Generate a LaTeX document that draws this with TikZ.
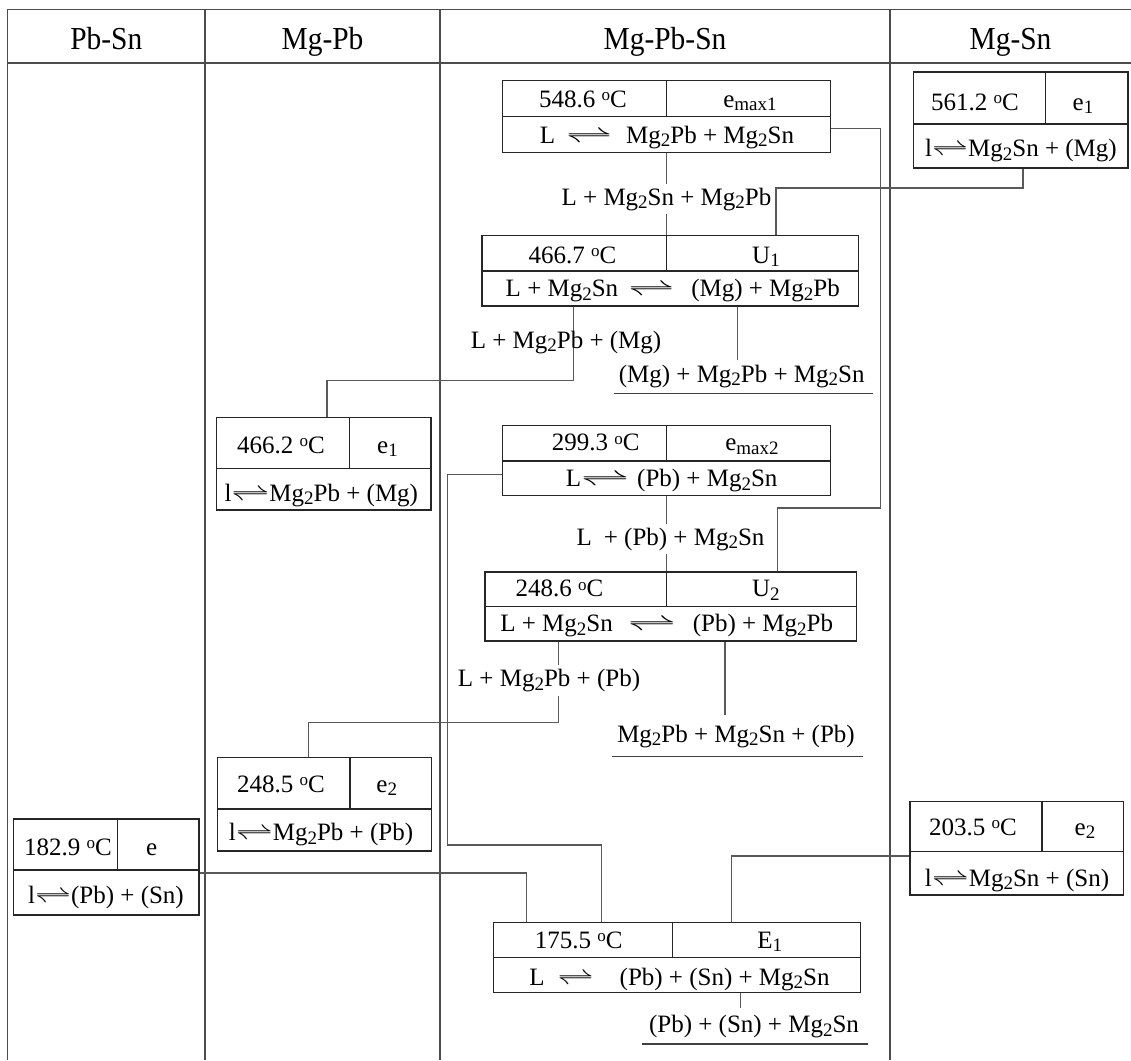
\documentclass[tikz,border=0pt]{standalone}
\usepackage{fontspec}
\setmainfont{Liberation Serif}
\usepackage{graphicx}
\usetikzlibrary{fit}
\newcommand{\harp}[1]{\ensuremath{\mathrel{\resizebox{#1}{\height}{$\rightleftharpoons$}}}}
\newcommand{\degC}{\raisebox{6.5pt}{\fontsize{17}{17}\selectfont o}C}
\newcommand{\sbs}[1]{\raisebox{-3.5pt}{\fontsize{19}{19}\selectfont #1}}
\newcommand{\hd}[1]{\scalebox{0.92}[1]{#1}}
\newcommand{\phbox}[7]{%
  \node[cellbox, fit={(#2,#4) (#3,#6)}] (#1) {};
  \draw[bline] (#2,#5) -- (#3,#5);
  \draw[bline] (#7,#4) -- (#7,#5);
}
\begin{document}
\begin{tikzpicture}[x=1pt,y=-1pt,
  tline/.style={line width=1.3pt, draw=black!70},
  bline/.style={line width=1.1pt, draw=black!85},
  cellbox/.style={draw=black!85, line width=1.1pt, inner sep=0pt, rectangle},
  conn/.style={line width=1.1pt, draw=black!65},
  uline/.style={line width=1.1pt, draw=black!75},
  txt/.style={inner sep=0pt, anchor=base, font=\fontsize{25}{29}\selectfont},
  hdr/.style={inner sep=0pt, anchor=base, font=\fontsize{32}{36}\selectfont},
  lbl/.style={txt, fill=white, inner xsep=1pt, inner ysep=4pt}]
\useasboundingbox (0,0) rectangle (1131,1060);
\fill[white] (0,0) rectangle (1131,1060);

% table
\draw[tline] (7.7,1060) -- (7.7,9.5) -- (1131,9.5);
\draw[tline] (7.7,63) -- (1131,63);
\draw[tline] (205,9.5) -- (205,1060);
\draw[tline] (440,9.5) -- (440,1060);
\draw[tline] (890,9.5) -- (890,1060);

\node[hdr] (hPbSn) at (106.3,49.3) {\hd{Pb-Sn}};
\node[hdr] (hMgPb) at (322.5,49.3) {\hd{Mg-Pb}};
\node[hdr] (hMgPbSn) at (665,49.3) {\hd{Mg-Pb-Sn}};
\node[hdr] (hMgSn) at (1010.5,49.3) {\hd{Mg-Sn}};

% boxes
\phbox{emax1}{502.3}{830.3}{80.7}{116.7}{152.3}{666.7}
\phbox{u1}{482}{858.7}{235.7}{271}{306}{666.7}
\phbox{mgsn1}{913.3}{1128}{72}{124}{168}{1045.7}
\phbox{mgpb1}{216.7}{431}{417.3}{468.3}{510}{349.3}
\phbox{emax2}{502.7}{830.7}{425.7}{461}{495.7}{666.7}
\phbox{u2}{485}{856.7}{572}{606.7}{641}{666.7}
\phbox{mgpb2}{217.3}{431.7}{757.3}{809}{851}{350}
\phbox{pbsn}{13.3}{199}{819}{870}{915}{117.3}
\phbox{mgsn2}{910}{1123.7}{801.7}{851.7}{895}{1042}
\phbox{e1}{493.7}{860.7}{922.7}{957.3}{992.3}{672.6}

% box texts
\node[txt] (t1a) at (583,107.3) {548.6 \degC};
\node[txt] (t1b) at (750,107.3) {e\sbs{max1}};
\node[txt] (t1c) at (667,143.3) {L\hspace{11pt}\harp{46pt}\hspace{14pt}Mg\sbs{2}Pb + Mg\sbs{2}Sn};

\node[txt] (t2a) at (572.5,263.3) {466.7 \degC};
\node[txt] (t2b) at (766,263.3) {U\sbs{1}};
\node[txt] (t2c) at (672.8,296.7) {L + Mg\sbs{2}Sn\hspace{10pt}\harp{46pt}\hspace{17pt}(Mg) + Mg\sbs{2}Pb};

\node[txt] (t3a) at (975,110) {561.2 \degC};
\node[txt] (t3b) at (1083,110) {e\sbs{1}};
\node[txt] (t3c) at (1021,156.7) {l\harp{36pt}Mg\sbs{2}Sn + (Mg)};

\node[txt] (t4a) at (281,453.3) {466.2 \degC};
\node[txt] (t4b) at (387.5,453.3) {e\sbs{1}};
\node[txt] (t4c) at (321.3,501) {l\harp{38pt}Mg\sbs{2}Pb + (Mg)};

\node[txt] (t5a) at (595.8,450.7) {299.3 \degC};
\node[txt] (t5b) at (752,450.7) {e\sbs{max2}};
\node[txt] (t5c) at (671.7,486.7) {L\harp{48pt}\hspace{8pt}(Pb) + Mg\sbs{2}Sn};

\node[txt] (t6a) at (559.5,596.7) {248.6 \degC};
\node[txt] (t6b) at (765.8,596.7) {U\sbs{2}};
\node[txt] (t6c) at (666.7,631.7) {L + Mg\sbs{2}Sn\hspace{15pt}\harp{48pt}\hspace{17pt}(Pb) + Mg\sbs{2}Pb};

\node[txt] (t7a) at (281,792.3) {248.5 \degC};
\node[txt] (t7b) at (386.7,792.3) {e\sbs{2}};
\node[txt] (t7c) at (321,840.7) {l\harp{37pt}Mg\sbs{2}Pb + (Pb)};

\node[txt] (t8a) at (68,855) {182.9 \degC};
\node[txt] (t8b) at (151.7,855) {e};
\node[txt] (t8c) at (106,903) {l\harp{36pt}(Pb) + (Sn)};

\node[txt] (t9a) at (973,835) {203.5 \degC};
\node[txt] (t9b) at (1085,835) {e\sbs{2}};
\node[txt] (t9c) at (1017,886) {l\harp{37pt}Mg\sbs{2}Sn + (Sn)};

\node[txt] (t10a) at (578.8,948.3) {175.5 \degC};
\node[txt] (t10b) at (769.7,948.3) {E\sbs{1}};
\node[txt] (t10c) at (679.5,985) {L\hspace{13pt}\harp{36pt}\hspace{26pt}(Pb) + (Sn) + Mg\sbs{2}Sn};

% bend coordinates
\coordinate (c2a) at (880.7,128.3);
\coordinate (c2b) at (777.7,508);
\coordinate (c3a) at (1023,188);
\coordinate (c3b) at (776,188);
\coordinate (c4a) at (573.3,380.7);
\coordinate (c4b) at (327,380.7);
\coordinate (c4c) at (737.3,360);
\coordinate (c6a) at (558.3,722.7);
\coordinate (c6b) at (308.3,722.7);
\coordinate (c7) at (725,715);
\coordinate (c8a) at (447.3,474.3);
\coordinate (c8b) at (601.7,845);
\coordinate (c9) at (526.8,873);
\coordinate (c10) at (731.6,856);
\coordinate (c11) at (740.4,1008);

% connectors
\draw[conn] (emax1.south -| 666.7,0) -- (u1.north -| 666.7,0);
\draw[conn] (emax1.east |- c2a) -- (c2a) |- (c2b) -- (c2b |- u2.north);
\draw[conn] (mgsn1.south -| c3a) -- (c3a) -- (c3b) -- (c3b |- u1.north);
\draw[conn] (u1.south -| c4a) -- (c4a) -- (c4b) -- (c4b |- mgpb1.north);
\draw[conn] (u1.south -| c4c) -- (c4c);
\draw[conn] (emax2.south -| 666.7,0) -- (u2.north -| 666.7,0);
\draw[conn] (u2.south -| c6a) -- (c6a) -- (c6b) -- (c6b |- mgpb2.north);
\draw[conn] (u2.south -| c7) -- (c7);
\draw[conn] (emax2.west |- c8a) -- (c8a) |- (c8b) -- (c8b |- e1.north);
\draw[conn] (pbsn.east |- c9) -- (c9) -- (c9 |- e1.north);
\draw[conn] (mgsn2.west |- c10) -- (c10) -- (c10 |- e1.north);
\draw[conn] (e1.south -| c11) -- (c11);

% phase labels
\node[lbl] (l1) at (666.5,205) {L + Mg\sbs{2}Sn + Mg\sbs{2}Pb};
\node[txt] (l2) at (566,348.3) {L + Mg\sbs{2}Pb + (Mg)};
\node[txt] (p1) at (741.7,382) {(Mg) + Mg\sbs{2}Pb + Mg\sbs{2}Sn};
\draw[uline] (614,393.3) -- (872.7,393.3);
\node[lbl] (l3) at (670.5,545) {L\hspace{12pt}+ (Pb) + Mg\sbs{2}Sn};
\node[lbl] (l4) at (549,686.7) {L + Mg\sbs{2}Pb + (Pb)};
\node[txt] (p2) at (736,742.3) {Mg\sbs{2}Pb + Mg\sbs{2}Sn + (Pb)};
\draw[uline] (611.7,756.7) -- (862.7,756.7);
\node[txt] (p3) at (754,1032.7) {(Pb) + (Sn) + Mg\sbs{2}Sn};
\draw[uline] (641.8,1044) -- (868,1044);
\end{tikzpicture}
\end{document}
